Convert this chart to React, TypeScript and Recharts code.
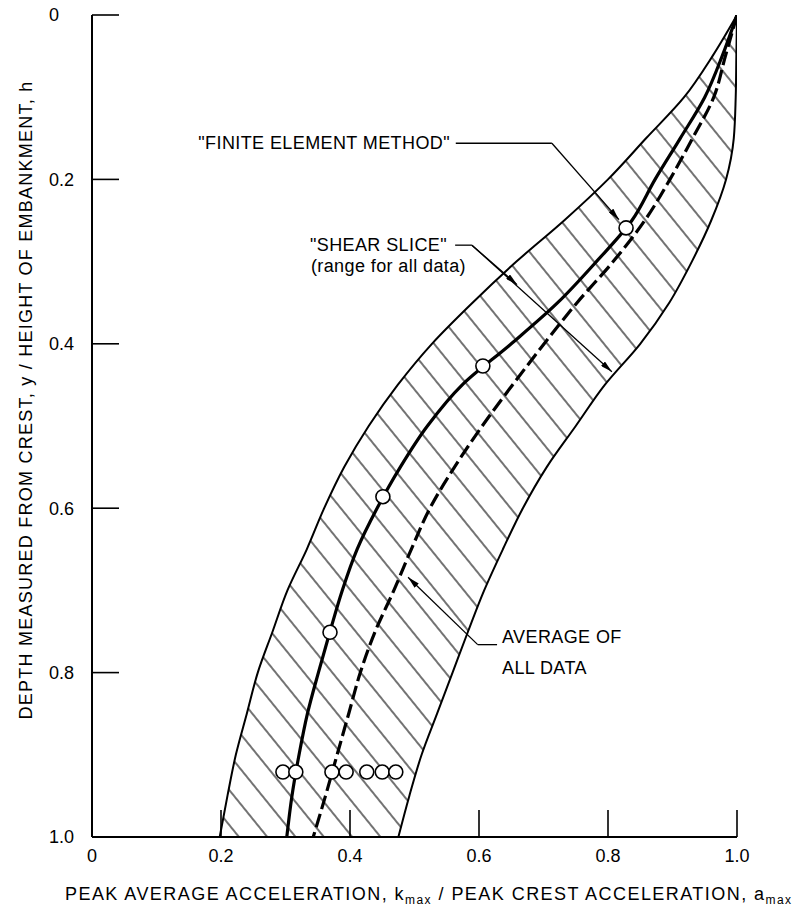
import React from 'react';
import { ComposedChart, Area, Line, Scatter, XAxis, YAxis, ReferenceLine } from 'recharts';

const FONT = '"Liberation Sans", Arial, sans-serif';

// depth below crest (y/h) at which every curve is read
const depth = [0, 0.05, 0.1, 0.15, 0.2, 0.25, 0.3, 0.35, 0.4, 0.45, 0.5, 0.55, 0.6, 0.65, 0.7, 0.75, 0.8, 0.85, 0.9, 0.95, 1.0];
// "shear slice" range, left and right edge (kmax/amax)
const bandLeft = [1.0, 0.962, 0.918, 0.859, 0.8, 0.732, 0.658, 0.59, 0.527, 0.474, 0.429, 0.391, 0.36, 0.333, 0.303, 0.28, 0.257, 0.24, 0.223, 0.21, 0.198];
const bandRight = [1.0, 0.999, 0.998, 0.995, 0.983, 0.96, 0.93, 0.895, 0.85, 0.795, 0.75, 0.705, 0.668, 0.637, 0.608, 0.583, 0.559, 0.535, 0.511, 0.492, 0.475];
// finite element method curve
const femCurve = [1.0, 0.977, 0.95, 0.912, 0.873, 0.837, 0.782, 0.722, 0.65, 0.574, 0.52, 0.478, 0.442, 0.411, 0.388, 0.369, 0.351, 0.334, 0.321, 0.31, 0.302];
// average of all data (dashed)
const avgCurve = [1.0, 0.982, 0.964, 0.931, 0.896, 0.857, 0.808, 0.752, 0.701, 0.652, 0.605, 0.562, 0.524, 0.495, 0.468, 0.439, 0.416, 0.398, 0.38, 0.362, 0.343];

// open circles on the FEM curve
const femPointX = [0.828, 0.606, 0.451, 0.369];
const femPointDepth = [0.259, 0.427, 0.586, 0.751];
// row of open circles near the base
const baseRowX = [0.296, 0.316, 0.372, 0.394, 0.426, 0.45, 0.471];
const baseRowDepth = 0.921;

const xTicks = [0, 0.2, 0.4, 0.6, 0.8, 1.0];
const yTicks = [0, 0.2, 0.4, 0.6, 0.8, 1.0];
const innerTicks = [0.2, 0.4, 0.6, 0.8];

const rows = depth.map((d, i) => ({
  depth: d,
  band: [bandLeft[i], bandRight[i]],
  fem: femCurve[i],
  avg: avgCurve[i],
}));

const circles = [
  ...femPointX.map((x, i) => ({ x, depth: femPointDepth[i] })),
  ...baseRowX.map((x) => ({ x, depth: baseRowDepth })),
];

const fmt = (v: number) => (v === 0 ? '0' : v.toFixed(1));

const axisLine = { stroke: '#000', strokeWidth: 2 };
const tickLine = { stroke: '#000', strokeWidth: 1.6 };

const YTick = ({ x, y, payload }: any) => (
  <text x={x} y={y} dy="0.36em" textAnchor="start" fontSize={18} fontFamily={FONT} fill="#000">
    {fmt(payload.value)}
  </text>
);

const OpenCircle = (p: any) => (
  <circle cx={p.cx} cy={p.cy} r={7} fill="#fff" stroke="#000" strokeWidth={1.6} />
);

const leader = { stroke: '#000', strokeWidth: 1.3, ifOverflow: 'visible' as const };

const textStyle = { fontSize: 18, fontFamily: FONT, fill: '#000', letterSpacing: 0.4 };

export default function App() {
  return (
    <div style={{ position: 'absolute', left: 0, top: 0, background: '#fff' }}>
      <ComposedChart
        width={795}
        height={914}
        data={rows}
        layout="vertical"
        margin={{ top: 15, right: 58, bottom: 0, left: 0 }}
      >
        <defs>
          <pattern id="hatch" patternUnits="userSpaceOnUse" width={22} height={22} patternTransform="rotate(51)">
            <line x1={0} y1={11} x2={22} y2={11} stroke="#000" strokeWidth={1.1} />
          </pattern>
          <marker id="arrow" viewBox="0 0 12 6" refX={12} refY={3} markerWidth={12} markerHeight={6} markerUnits="userSpaceOnUse" orient="auto">
            <path d="M0,0 L12,3 L0,6 Z" fill="#000" />
          </marker>
        </defs>

        <XAxis
          type="number"
          domain={[0, 1]}
          ticks={xTicks}
          interval={0}
          allowDataOverflow
          height={77}
          tickSize={-27}
          tickMargin={39}
          axisLine={axisLine}
          tickLine={tickLine}
          tick={{ fontSize: 18, fontFamily: FONT, fill: '#000' }}
          tickFormatter={fmt}
          label={{
            content: () => (
              <text x={65} y={900} {...textStyle} letterSpacing={1.45}>
                PEAK AVERAGE ACCELERATION, k
                <tspan fontSize={12} dy={4}>max</tspan>
                <tspan dy={-4}> / PEAK CREST ACCELERATION, a</tspan>
                <tspan fontSize={12} dy={4}>max</tspan>
              </text>
            ),
          }}
        />
        <XAxis
          xAxisId="top"
          orientation="top"
          type="number"
          domain={[0, 1]}
          ticks={innerTicks}
          interval={0}
          allowDataOverflow
          height={0}
          tickSize={-27}
          axisLine={axisLine}
          tickLine={tickLine}
          tick={false}
        />
        <YAxis
          type="number"
          dataKey="depth"
          domain={[0, 1]}
          ticks={yTicks}
          interval={0}
          allowDataOverflow
          width={92}
          tickSize={-27}
          tickMargin={70}
          axisLine={axisLine}
          tickLine={tickLine}
          tick={YTick}
          label={{
            content: () => (
              <text x={32} y={400} transform="rotate(-90, 32, 400)" textAnchor="middle" {...textStyle} letterSpacing={1.25}>
                DEPTH MEASURED FROM CREST, y / HEIGHT OF EMBANKMENT, h
              </text>
            ),
          }}
        />
        <YAxis
          yAxisId="right"
          orientation="right"
          type="number"
          dataKey="depth"
          domain={[0, 1]}
          ticks={innerTicks}
          interval={0}
          allowDataOverflow
          width={0}
          tickSize={-27}
          axisLine={axisLine}
          tickLine={tickLine}
          tick={false}
        />

        <Area
          dataKey="band"
          type="monotone"
          fill="url(#hatch)"
          fillOpacity={1}
          stroke="#000"
          strokeWidth={2}
          isAnimationActive={false}
        />
        <Line dataKey="avg" type="monotone" stroke="#000" strokeWidth={3.2} strokeDasharray="14 5" dot={false} isAnimationActive={false} />
        <Line dataKey="fem" type="monotone" stroke="#000" strokeWidth={3.2} dot={false} isAnimationActive={false} />
        <Scatter data={circles} dataKey="x" shape={OpenCircle} isAnimationActive={false} />

        <ReferenceLine {...leader} segment={[{ x: 0.564, y: 0.156 }, { x: 0.713, y: 0.156 }]} />
        <ReferenceLine {...leader} segment={[{ x: 0.713, y: 0.156 }, { x: 0.817, y: 0.249 }]} markerEnd="url(#arrow)" />
        <ReferenceLine {...leader} segment={[{ x: 0.563, y: 0.280 }, { x: 0.589, y: 0.280 }]} />
        <ReferenceLine {...leader} segment={[{ x: 0.589, y: 0.280 }, { x: 0.806, y: 0.434 }]} markerEnd="url(#arrow)" />
        <ReferenceLine {...leader} segment={[{ x: 0.589, y: 0.280 }, { x: 0.659, y: 0.328 }]} markerEnd="url(#arrow)" />
        <ReferenceLine {...leader} segment={[{ x: 0.628, y: 0.766 }, { x: 0.598, y: 0.766 }]} />
        <ReferenceLine {...leader} segment={[{ x: 0.598, y: 0.766 }, { x: 0.490, y: 0.684 }]} markerEnd="url(#arrow)" />

        <text x={450} y={149} textAnchor="end" {...textStyle}>"FINITE ELEMENT METHOD"</text>
        <text x={447} y={251} textAnchor="end" {...textStyle}>"SHEAR SLICE"</text>
        <text x={466} y={272} textAnchor="end" {...textStyle}>(range for all data)</text>
        <text x={502} y={643} {...textStyle}>AVERAGE OF</text>
        <text x={502} y={674} {...textStyle}>ALL DATA</text>
      </ComposedChart>
    </div>
  );
}
